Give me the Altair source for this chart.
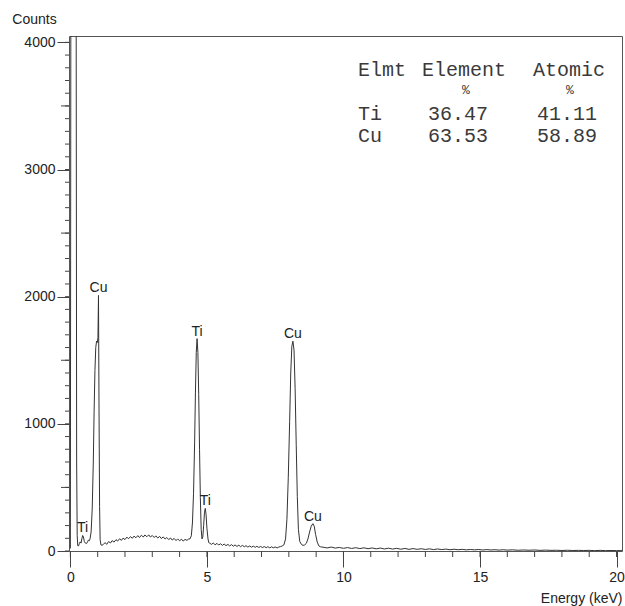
import altair as alt
import pandas as pd

# ---------------- data ----------------
# low-energy region: zero peak, Ti L, Cu L
low_e = [0.00, 0.02, 0.21, 0.23, 0.25, 0.27, 0.30, 0.33, 0.36, 0.39, 0.42, 0.45, 0.48,
         0.51, 0.55, 0.59, 0.63, 0.66, 0.69, 0.72, 0.76, 0.80, 0.84, 0.87, 0.90, 0.93, 0.96,
         0.99, 1.01, 1.03, 1.05, 1.07, 1.09, 1.12, 1.16]
low_c = [20, 4800, 4800, 700, 120, 42, 40, 60, 72, 62, 95, 122, 110,
         75, 62, 58, 72, 86, 80, 95, 150, 330, 700, 1100, 1420, 1600, 1650,
         1640, 1680, 2010, 1100, 350, 90, 48, 45]

# bremsstrahlung hump 1.2 - 4.33 keV
hump_e = [1.20, 1.27, 1.33, 1.40, 1.47, 1.53, 1.60, 1.67, 1.73, 1.80, 1.87, 1.93, 2.00, 2.07,
          2.13, 2.20, 2.27, 2.33, 2.40, 2.47, 2.53, 2.60, 2.67, 2.73, 2.80, 2.87, 2.93, 3.00,
          3.07, 3.13, 3.20, 3.27, 3.33, 3.40, 3.47, 3.53, 3.60, 3.67, 3.73, 3.80, 3.87, 3.93,
          4.00, 4.07, 4.13, 4.20, 4.27, 4.33]
hump_c = [50, 66, 52, 74, 63, 82, 70, 89, 78, 96, 84, 101, 90, 109,
          96, 113, 100, 117, 104, 121, 106, 124, 110, 126, 112, 127, 110, 122,
          106, 119, 102, 115, 98, 111, 94, 106, 90, 102, 86, 99, 82, 95,
          80, 93, 78, 91, 84, 94]

# Ti K-alpha / K-beta
ti_e = [4.38, 4.43, 4.47, 4.51, 4.55, 4.58, 4.61, 4.64, 4.67, 4.70, 4.73, 4.76, 4.79, 4.82,
        4.85, 4.88, 4.91, 4.94, 4.97, 5.00, 5.04, 5.07]
ti_c = [95, 120, 220, 450, 850, 1250, 1560, 1670, 1560, 1230, 800, 420, 170, 95,
        110, 200, 300, 335, 285, 180, 95, 65]

# background 5.1 - 7.76 keV
mid_e = [5.10, 5.17, 5.23, 5.30, 5.37, 5.43, 5.50, 5.57, 5.63, 5.70, 5.77, 5.83, 5.90, 5.97,
         6.03, 6.10, 6.17, 6.23, 6.30, 6.37, 6.43, 6.50, 6.57, 6.63, 6.70, 6.77, 6.83, 6.90,
         6.97, 7.03, 7.10, 7.17, 7.23, 7.30, 7.37, 7.43, 7.50, 7.57, 7.63, 7.70, 7.76]
mid_c = [62, 52, 63, 49, 60, 47, 57, 44, 55, 42, 52, 40, 50, 38,
         48, 36, 46, 34, 44, 33, 42, 31, 40, 30, 38, 29, 37, 28,
         36, 27, 35, 26, 34, 25, 33, 25, 32, 24, 31, 35, 40]

# Cu K-alpha / K-beta
cu_e = [7.82, 7.88, 7.93, 7.98, 8.03, 8.07, 8.11, 8.15, 8.19, 8.23, 8.27, 8.31, 8.35, 8.40,
        8.46, 8.52, 8.58, 8.64, 8.70, 8.76, 8.82, 8.88, 8.93, 8.98, 9.04, 9.10, 9.16]
cu_c = [48, 95, 250, 580, 1020, 1400, 1610, 1650, 1580, 1280, 840, 430, 170, 75,
        52, 44, 48, 60, 95, 150, 195, 215, 195, 130, 70, 40, 33]

# high-energy tail
tail_e = [9.25, 9.40, 9.55, 9.70, 9.85, 10.00, 10.15, 10.30, 10.45, 10.60, 10.75, 10.90,
          11.05, 11.20, 11.35, 11.50, 11.65, 11.80, 11.95, 12.10, 12.25, 12.40, 12.55,
          12.70, 12.85, 13.00, 13.15, 13.30, 13.45, 13.60, 13.75, 13.90, 14.05, 14.20,
          14.35, 14.50, 14.65, 14.80, 14.95, 15.10, 15.25, 15.40, 15.55, 15.70, 15.85,
          16.00, 16.20, 16.40, 16.60, 16.80, 17.00, 17.20, 17.40, 17.60, 17.80, 18.00,
          18.20, 18.40, 18.60, 18.80, 19.00, 19.20, 19.40, 19.60, 19.80, 20.00, 20.20]
tail_c = [30, 24, 31, 23, 28, 21, 27, 20, 26, 19, 25, 18,
          24, 17, 23, 16, 22, 15, 21, 14, 20, 13, 19,
          13, 18, 12, 17, 11, 16, 11, 15, 10, 14, 10,
          13, 9, 12, 9, 12, 8, 11, 8, 10, 7, 10,
          7, 9, 6, 8, 6, 8, 5, 7, 5, 6, 4,
          6, 4, 5, 4, 5, 3, 5, 3, 4, 3, 3]

# peak labels
peak_names = ["Ti", "Cu", "Ti", "Ti", "Cu", "Cu"]
peak_energy = [0.45, 1.03, 4.64, 4.94, 8.15, 8.88]
peak_counts = [122, 2010, 1670, 335, 1650, 215]

# quantification table
table_header = ["Elmt", "Element", "Atomic"]
table_units = ["%", "%"]
elements = ["Ti", "Cu"]
element_pct = ["36.47", "63.53"]
atomic_pct = ["41.11", "58.89"]

x_major = [0, 5, 10, 15, 20]
x_minor = list(range(0, 21))
y_major = [0, 1000, 2000, 3000, 4000]
y_mid = [500, 1500, 2500, 3500]
y_minor = list(range(0, 4001, 100))

# ---------------- layout ----------------
W, H = 553, 515
X_DOMAIN = [-0.05, 20.2]
Y_DOMAIN = [0, 4050]
SANS = "Liberation Sans"
MONO = "Liberation Mono"
INK = "#222"
TICK = "#444"

spec = pd.DataFrame({
    "energy": low_e + hump_e + ti_e + mid_e + cu_e + tail_e,
    "counts": low_c + hump_c + ti_c + mid_c + cu_c + tail_c,
})
peaks = pd.DataFrame({"name": peak_names, "energy": peak_energy, "counts": peak_counts})

# table cell positions (pixels, relative to the plot area)
col_left = [289, 353, 464]
val_left = [359, 468]
row_base = [40, 84, 106]
cells = []
for t, x in zip(table_header, col_left):
    cells.append({"text": t, "px": x, "py": row_base[0]})
for i, el in enumerate(elements):
    cells.append({"text": el, "px": col_left[0], "py": row_base[i + 1]})
    cells.append({"text": element_pct[i], "px": val_left[0], "py": row_base[i + 1]})
    cells.append({"text": atomic_pct[i], "px": val_left[1], "py": row_base[i + 1]})
table = pd.DataFrame(cells)
units = pd.DataFrame({"text": table_units, "px": [397, 501], "py": [58, 58]})


def xs():
    return alt.Scale(domain=X_DOMAIN, nice=False, zero=False)


def ys():
    return alt.Scale(domain=Y_DOMAIN, nice=False, zero=False)


line = alt.Chart(spec).mark_line(color="#333", strokeWidth=1, clip=True).encode(
    x=alt.X("energy:Q", scale=xs(), axis=alt.Axis(
        orient="bottom", values=x_major, tickSize=16, domain=False, grid=False,
        labelFont=SANS, labelFontSize=14, labelColor=INK, labelPadding=3,
        tickColor=TICK, format="d",
        title="Energy (keV)", titleFont=SANS, titleFontSize=14, titleFontWeight="normal",
        titleColor=INK, titleAlign="right", titleBaseline="middle",
        titleX=W, titleY=47)),
    y=alt.Y("counts:Q", scale=ys(), axis=alt.Axis(
        orient="left", values=y_major, tickSize=12, domain=False, grid=False,
        labelFont=SANS, labelFontSize=14, labelColor=INK, labelPadding=2,
        tickColor=TICK, format="d",
        title="Counts", titleFont=SANS, titleFontSize=14, titleFontWeight="normal",
        titleColor=INK, titleAngle=0, titleAlign="center", titleBaseline="middle",
        titleX=-35, titleY=-17)),
)

xminor_df = pd.DataFrame({"v": x_minor})
ymid_df = pd.DataFrame({"v": y_mid})
yminor_df = pd.DataFrame({"v": y_minor})

x_ticks = alt.Chart(xminor_df).mark_rule(color=TICK, strokeWidth=1, clip=False).encode(
    x=alt.X("v:Q", scale=xs(), axis=None),
    y=alt.value(H),
    y2=alt.value(H + 6),
)
y_ticks = alt.Chart(yminor_df).mark_rule(color=TICK, strokeWidth=1, clip=False).encode(
    y=alt.Y("v:Q", scale=ys(), axis=None),
    x=alt.value(0),
    x2=alt.value(-4),
)
y_mid_ticks = alt.Chart(ymid_df).mark_rule(color=TICK, strokeWidth=1, clip=False).encode(
    y=alt.Y("v:Q", scale=ys(), axis=None),
    x=alt.value(0),
    x2=alt.value(-8),
)

labels = alt.Chart(peaks).mark_text(
    font=SANS, fontSize=14, color=INK, baseline="bottom", dy=0
).encode(
    x=alt.X("energy:Q", scale=xs(), axis=None),
    y=alt.Y("counts:Q", scale=ys(), axis=None),
    text="name:N",
)

tab = alt.Chart(table).mark_text(
    font=MONO, fontSize=20, color="#3a3a3a", align="left", baseline="alphabetic"
).encode(
    x=alt.X("px:Q", scale=None, axis=None),
    y=alt.Y("py:Q", scale=None, axis=None),
    text="text:N",
)

unit = alt.Chart(units).mark_text(
    font=MONO, fontSize=13, color="#3a3a3a", align="center", baseline="alphabetic"
).encode(
    x=alt.X("px:Q", scale=None, axis=None),
    y=alt.Y("py:Q", scale=None, axis=None),
    text="text:N",
)

chart = alt.layer(line, x_ticks, y_ticks, y_mid_ticks, labels, tab, unit).resolve_scale(
    x="independent", y="independent"
).resolve_axis(
    x="independent", y="independent"
).properties(
    width=W, height=H,
    autosize=alt.AutoSizeParams(type="none"),
    padding={"left": 69, "top": 36, "right": 3, "bottom": 55},
    background="white",
).configure_view(
    stroke="#555", strokeWidth=1
)

chart.save("out.html", embed_options={"renderer": "svg", "actions": False})
